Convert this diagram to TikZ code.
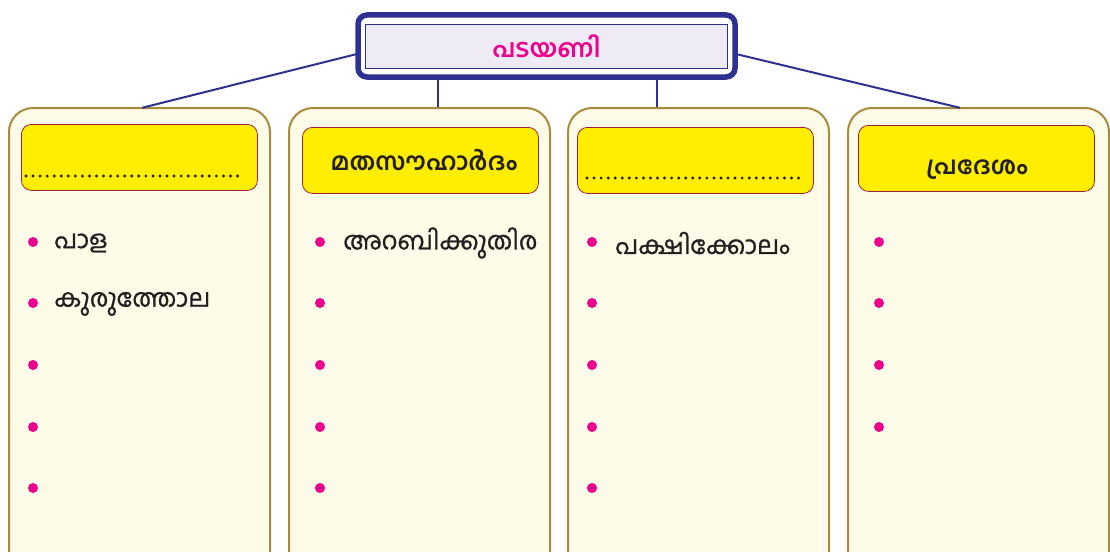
\documentclass[tikz,border=0pt]{standalone}
\usepackage{fontspec}
\newfontfamily\mal[Script=Malayalam]{Hind Kochi}
\newfontfamily\malm[Script=Malayalam,FakeBold=0.8]{Hind Kochi}
\definecolor{tblue}{HTML}{2E3192}
\definecolor{tlav}{HTML}{EEEBF6}
\definecolor{pcream}{HTML}{FFFBE9}
\definecolor{pgold}{HTML}{A88A3C}
\definecolor{hyel}{HTML}{FFEE00}
\definecolor{hred}{HTML}{A0203A}
\definecolor{bpink}{HTML}{EC008C}
\definecolor{ink}{HTML}{231F20}
\tikzset{
  x=1pt,y=-1pt,
  panel/.style={draw=pgold,fill=pcream,line width=2pt,rounded corners=24pt,
    minimum width=261pt,minimum height=470pt,anchor=north west,inner sep=0pt},
  hbox/.style={draw=hred,fill=hyel,line width=0.8pt,rounded corners=10pt,
    minimum width=236pt,minimum height=66pt,anchor=north west,inner sep=0pt},
  conn/.style={draw=tblue,line width=2pt},
  dotrow/.style={draw=ink,line width=3.2pt,line cap=round,dash pattern=on 0pt off 7.05pt},
  bullet/.style={circle,fill=bpink,minimum size=10pt,inner sep=0pt},
  item/.style={anchor=west,inner sep=0pt,text=ink,font=\malm\fontsize{25}{28}\selectfont},
  htext/.style={inner sep=0pt,text=ink,font=\mal\bfseries\fontsize{24.5}{28}\selectfont},
}
\begin{document}
\begin{tikzpicture}
\clip (0,0) rectangle (1110,551);
\fill[white] (0,0) rectangle (1110,551);
% panels
\node[panel] (p1) at (8,107) {};
\node[panel] (p2) at (288,107) {};
\node[panel] (p3) at (567,107) {};
\node[panel] (p4) at (847,107) {};
% headers
\node[hbox] (h1) at (21,124) {};
\node[hbox] (h2) at (302,127) {};
\node[hbox] (h3) at (577,127) {};
\node[hbox] (h4) at (858,125) {};
\coordinate (d1a) at (26,176);
\coordinate (d1b) at (241,176);
\draw[dotrow] (d1a) -- (d1b);
\coordinate (d3a) at (587,178);
\coordinate (d3b) at (801,178);
\draw[dotrow] (d3a) -- (d3b);
\node[htext] (t2) at (424,160) {മതസൗഹാർദം};
\node[htext] (t4) at (977,170) {പ്രദേശം};
% title
\node[draw=tblue,line width=5.5pt,rounded corners=9pt,fill=white,
  minimum width=377pt,minimum height=62pt,inner sep=0pt] (title) at (546.5,46) {};
\node[draw=tblue,line width=0.8pt,fill=tlav,minimum width=362pt,minimum height=44pt,
  inner sep=0pt,text=bpink,font=\mal\bfseries\fontsize{25}{28}\selectfont] (titlein) at (546.5,46) {പടയണി};
% connectors
\coordinate (cl) at (357,54);
\coordinate (cr) at (736,54);
\coordinate (c2) at (438,80);
\coordinate (c3) at (657,80);
\draw[conn] (cl) -- (142,107.8) coordinate (e1);
\draw[conn] (cr) -- (960,107.8) coordinate (e4);
\draw[conn] (c2) -- (c2 |- p2.north);
\draw[conn] (c3) -- (c3 |- p3.north);
% bullets
\foreach \y [count=\i] in {242,303,365,427,488}{
  \node[bullet] (b1\i) at (33,\y) {};
  \node[bullet] (b2\i) at (320,\y) {};
  \node[bullet] (b3\i) at (592,\y) {};
}
\foreach \y [count=\i] in {242,303,365,427}{
  \node[bullet] (b4\i) at (879,\y) {};
}
% items
\node[item] (i11) at (54,243) {പാള};
\node[item] (i12) at (54,304) {കുരുത്തോല};
\node[item] (i21) at (343,243) {അറബിക്കുതിര};
\node[item] (i31) at (615,243) {പക്ഷിക്കോലം};
\end{tikzpicture}
\end{document}
